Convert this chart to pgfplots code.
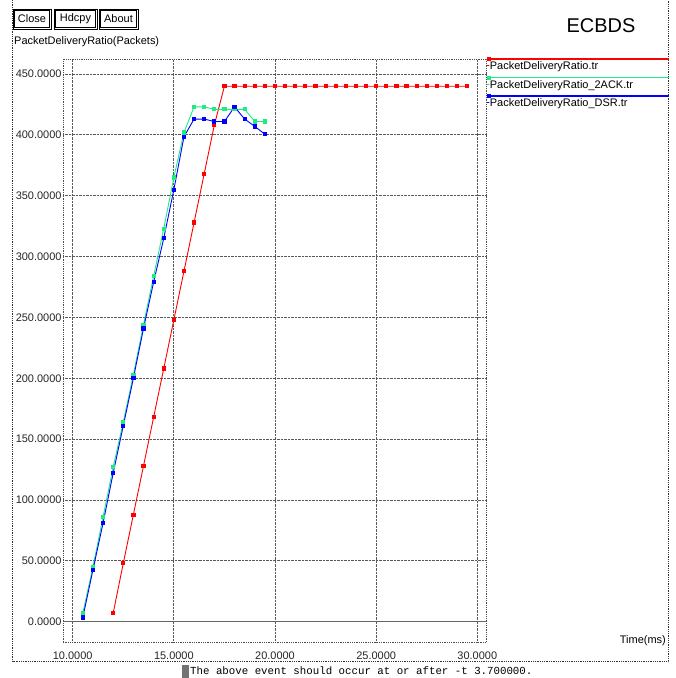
\documentclass[border=0pt]{standalone}
\usepackage{fontspec}
\setmainfont{Liberation Sans}
\setmonofont{Liberation Mono}
\usepackage{pgfplots}
\pgfplotsset{compat=1.18}
\usetikzlibrary{calc}
\definecolor{xred}{RGB}{255,0,0}
\definecolor{xgreen}{RGB}{30,235,130}
\definecolor{xblue}{RGB}{0,0,255}
\newcommand{\xf}{\fontsize{11}{13}\selectfont}
\pgfplotsset{legimg/.style={legend image code/.code={
    \draw[draw=#1, solid, overlay, line width=1.2bp] (0bp,6.7bp) -- (181.6bp,6.7bp);
    \fill[fill=#1, overlay] (0bp,5.2bp) rectangle (3bp,8.2bp);
    \path (0,0) rectangle (2.3bp,0);
  }}}
\begin{document}
\begin{tikzpicture}
\path[use as bounding box] (0,-678bp) rectangle (676bp,0);
% window frame
\draw[densely dotted, black!80, line width=0.8bp] (12.7bp,0) -- (12.7bp,-661.7bp) -- (668.3bp,-661.7bp) -- (668.3bp,0);
% buttons
\foreach \a/\b/\t in {13/51/Close, 54/97/Hdcpy, 99/138/About}{
  \draw[line width=0.8bp] (\a bp,-9bp) rectangle (\b bp,-29bp);
  \draw[line width=0.6bp] ($(\a bp,-9bp)+(1.6bp,-1.6bp)$) rectangle ($(\b bp,-29bp)+(-1.6bp,1.6bp)$);
  \node[font=\xf, inner sep=0pt] at ($(\a bp,-19bp)!0.5!(\b bp,-19bp)$) {\t};
}
\node[font=\fontsize{20}{24}\selectfont, inner sep=0pt] at (601bp,-26bp) {ECBDS};
\node[font=\xf, anchor=west, inner sep=0pt] at (14bp,-41.5bp) {PacketDeliveryRatio(Packets)};
\node[font=\xf, anchor=east, inner sep=0pt] at (666bp,-641bp) {Time(ms)};
\fill[black!55] (182bp,-665bp) rectangle (189bp,-678bp);
\node[font=\ttfamily\fontsize{10.8}{13}\selectfont, anchor=west, inner sep=0pt] at (190bp,-671bp) {The above event should occur at or after -t 3.700000.};
\begin{axis}[
  at={(63.3bp,-642bp)}, anchor=south west,
  width=423.4bp, height=582.7bp, scale only axis,
  xmin=9.535, xmax=30.465, ymin=-16.7, ymax=462.1,
  xtick={10,15,20,25,30}, ytick={0,50,...,450},
  grid=major, major grid style={densely dotted, black!65, line width=0.8bp},
  axis line style={densely dotted, black!70, line width=0.8bp},
  major tick length=0pt,
  xticklabel={\pgfmathprintnumber[fixed,fixed zerofill,precision=4,1000 sep={},assume math mode=true]{\tick}},
  yticklabel={\pgfmathprintnumber[fixed,fixed zerofill,precision=4,1000 sep={},assume math mode=true]{\tick}},
  tick label style={font=\xf, black!85},
  xticklabel style={inner sep=0pt, yshift=-9.7bp},
  yticklabel style={inner sep=0pt, xshift=-1.6bp},
  legend style={at={(1,1)}, anchor=north west, draw=none, fill=none, inner sep=0pt, outer sep=0pt,
    row sep=5.6bp, font=\xf, nodes={inner sep=0pt, text height=10.4bp, text depth=2.5bp}},
  legend cell align=left,
]
\addplot[black!60, line width=1.6bp, forget plot] coordinates {(9.535,0) (30.465,0)};
\addplot[xred, line width=0.9bp, mark=square*, mark size=1.6bp, legimg=xred] coordinates {
(12.0,7) (12.5,48) (13.0,88) (13.5,128) (14.0,168) (14.5,208) (15.0,248) (15.5,288)
(16.0,328) (16.5,368) (17.0,408) (17.5,440) (18.0,440) (18.5,440) (19.0,440) (19.5,440)
(20.0,440) (20.5,440) (21.0,440) (21.5,440) (22.0,440) (22.5,440) (23.0,440) (23.5,440)
(24.0,440) (24.5,440) (25.0,440) (25.5,440) (26.0,440) (26.5,440) (27.0,440) (27.5,440)
(28.0,440) (28.5,440) (29.0,440) (29.5,440)};
\addlegendentry{PacketDeliveryRatio.tr}
\addplot[xgreen, line width=0.9bp, mark=square*, mark size=1.6bp, legimg=xgreen] coordinates {
(10.5,7) (11.0,45) (11.5,86) (12.0,127) (12.5,164) (13.0,203) (13.5,244) (14.0,284)
(14.5,323) (15.0,365) (15.5,402) (16.0,423) (16.5,423) (17.0,421) (17.5,421) (18.0,421)
(18.5,421) (19.0,411) (19.5,411)};
\addlegendentry{PacketDeliveryRatio\_2ACK.tr}
\addplot[xblue, line width=0.9bp, mark=square*, mark size=1.6bp, legimg=xblue] coordinates {
(10.5,3.5) (11.0,42.5) (11.5,81) (12.0,122) (12.5,161) (13.0,200) (13.5,241) (14.0,279)
(14.5,315) (15.0,355) (15.5,398.5) (16.0,413) (16.5,413) (17.0,411) (17.5,411) (18.0,423)
(18.5,413) (19.0,407) (19.5,400.5)};
\addlegendentry{PacketDeliveryRatio\_DSR.tr}
\end{axis}
\end{tikzpicture}
\end{document}
